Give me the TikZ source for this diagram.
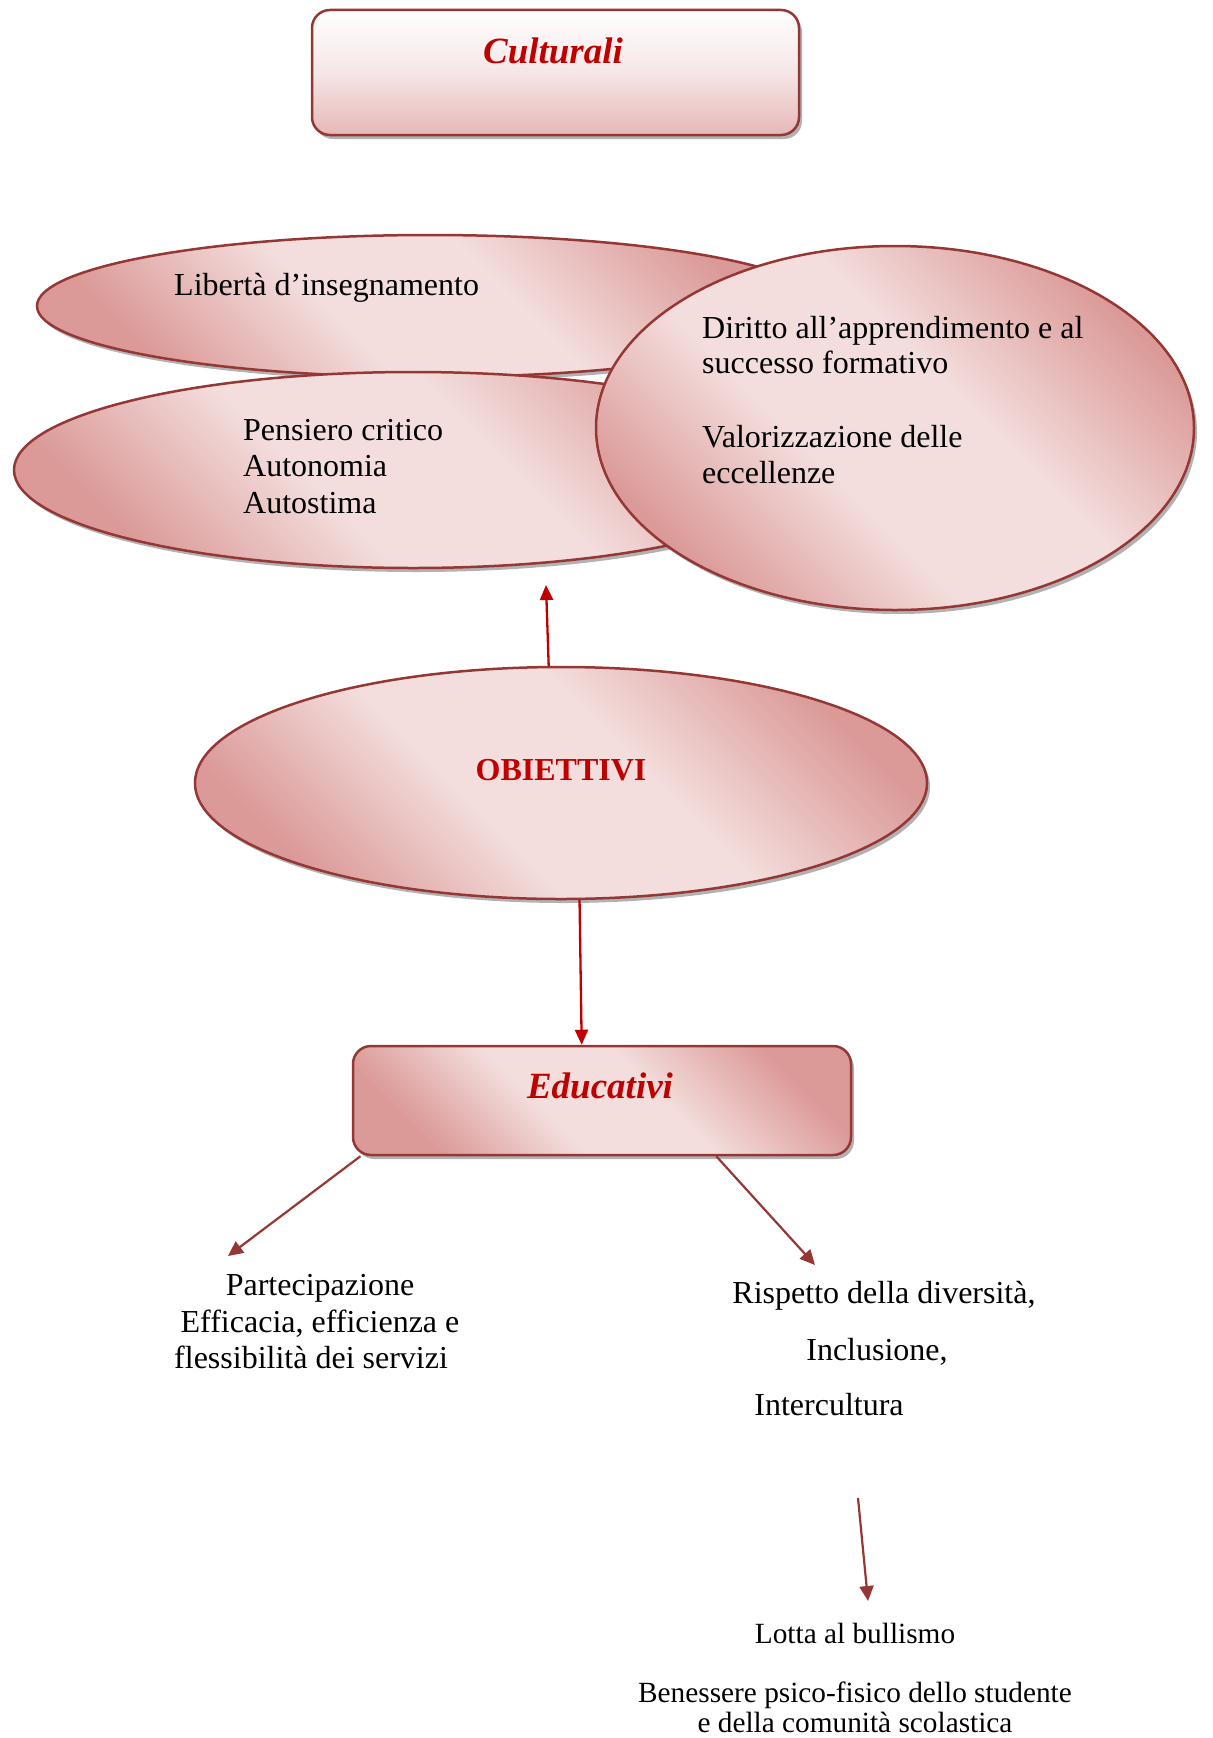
\documentclass[tikz,border=0pt]{standalone}
\usepackage{fontspec}
\setmainfont{Liberation Serif}
\usetikzlibrary{shapes.geometric,shadows,arrows.meta}

\definecolor{rimred}{RGB}{149,55,53}
\definecolor{titlered}{RGB}{192,0,0}
\definecolor{pinkdark}{RGB}{219,154,152}
\definecolor{pinklight}{RGB}{243,222,221}
\definecolor{pinkbottom}{RGB}{230,183,182}
\definecolor{pinkmid}{RGB}{246,230,230}

% diagonal band: darker rims, light middle
\pgfdeclarehorizontalshading{pinkband}{100bp}{%
  color(0bp)=(pinkdark); color(25bp)=(pinkdark); color(42bp)=(pinklight);
  color(57bp)=(pinklight); color(75bp)=(pinkdark); color(100bp)=(pinkdark)}

\tikzset{
  softshadow/.style={drop shadow={shadow xshift=3bp,shadow yshift=-4bp,fill=black,opacity=0.3}},
  bubble/.style={ellipse, draw=rimred, line width=2.5bp, inner sep=0pt, softshadow,
    shading=pinkband, shading angle=45},
  headbox/.style={rectangle, rounded corners=18bp, draw=rimred, line width=2.5bp, inner sep=0pt, softshadow,
    top color=white, bottom color=pinkbottom, middle color=pinkmid},
  eduread/.style={rectangle, rounded corners=18bp, draw=rimred, line width=2.5bp, inner sep=0pt, softshadow,
    shading=pinkband, shading angle=45},
  titletext/.style={font=\fontsize{37bp}{44bp}\selectfont\bfseries\itshape, text=titlered, inner sep=0pt, anchor=base},
  boldtext/.style={font=\fontsize{32bp}{37bp}\selectfont\bfseries, text=titlered, inner sep=0pt, anchor=base},
  bodytext/.style={font=\fontsize{32bp}{37bp}\selectfont, inner sep=0pt, anchor=base west},
  bodycentre/.style={font=\fontsize{32bp}{37bp}\selectfont, inner sep=0pt, anchor=base},
  smalltext/.style={font=\fontsize{29.3bp}{31bp}\selectfont, inner sep=0pt, anchor=base},
  redarrow/.style={draw=titlered, line width=2.3bp, -{Triangle[length=15bp,width=13bp]}},
  darkarrow/.style={draw=rimred, line width=2.2bp, -{Triangle[length=15bp,width=14bp]}}
}

\begin{document}
\begin{tikzpicture}[x=1bp,y=-1bp]
\useasboundingbox (0,0) rectangle (1212,1738);

% heading box
\node[headbox, minimum width=487bp, minimum height=125bp] (culturali) at (555.5,72.5) {};
\node[titletext] (culturali-label) at (553,63) {Culturali};

% overlapping bubbles of cultural goals
\node[bubble, minimum width=786bp, minimum height=142bp] (liberta) at (430,306) {};
\node[bubble, minimum width=798bp, minimum height=196bp] (pensiero) at (413,470) {};
\node[bubble, minimum width=598bp, minimum height=364bp] (diritto) at (895,428) {};

\node[bodytext] (t-liberta) at (174,295) {Libertà d’insegnamento};
\node[bodytext] (t-pensiero) at (243,440) {Pensiero critico};
\node[bodytext] (t-autonomia) at (243,476) {Autonomia};
\node[bodytext] (t-autostima) at (243,513) {Autostima};
\node[bodytext] (t-diritto) at (702,338) {Diritto all’apprendimento e al};
\node[bodytext] (t-successo) at (702,373) {successo formativo};
\node[bodytext] (t-valor) at (702,447) {Valorizzazione delle};
\node[bodytext] (t-eccell) at (702,483) {eccellenze};

% central bubble
\node[bubble, minimum width=732bp, minimum height=232bp] (obiettivi) at (561,783) {};
\node[boldtext] (obiettivi-label) at (561,780) {OBIETTIVI};

% educational box
\node[eduread, minimum width=498bp, minimum height=109bp] (educ) at (602,1100.5) {};
\node[titletext] (educ-label) at (600,1098) {Educativi};

% texts of educational goals
\node[bodycentre] (t-partec) at (320,1295) {Partecipazione};
\node[bodycentre] (t-effic) at (320,1332) {Efficacia, efficienza e};
\node[bodytext] (t-fless) at (174,1368) {flessibilità dei servizi};

\node[bodycentre] (t-rispetto) at (884,1303) {Rispetto della diversità,};
\node[bodycentre] (t-inclus) at (877,1360) {Inclusione,};
\node[bodycentre] (t-intercult) at (829,1415) {Intercultura};

\node[smalltext] (t-lotta) at (855,1643) {Lotta al bullismo};
\node[smalltext] (t-benessere) at (855,1702) {Benessere psico-fisico dello studente};
\node[smalltext] (t-comunita) at (855,1732) {e della comunità scolastica};

% arrow ends
\coordinate (up-tip) at (546,585);
\coordinate (left-tip) at (228,1256);
\coordinate (right-tip) at (815,1265);
\coordinate (bully-start) at (858,1498);
\coordinate (bully-tip) at (868,1601);

% connectors
\draw[redarrow] (obiettivi.96) -- (up-tip);
\draw[redarrow] (obiettivi.-81) -- (educ.110);
\draw[darkarrow] (educ.-167.2) -- (left-tip);
\draw[darkarrow] (educ.-26.2) -- (right-tip);
\draw[darkarrow] (bully-start) -- (bully-tip);
\end{tikzpicture}
\end{document}
